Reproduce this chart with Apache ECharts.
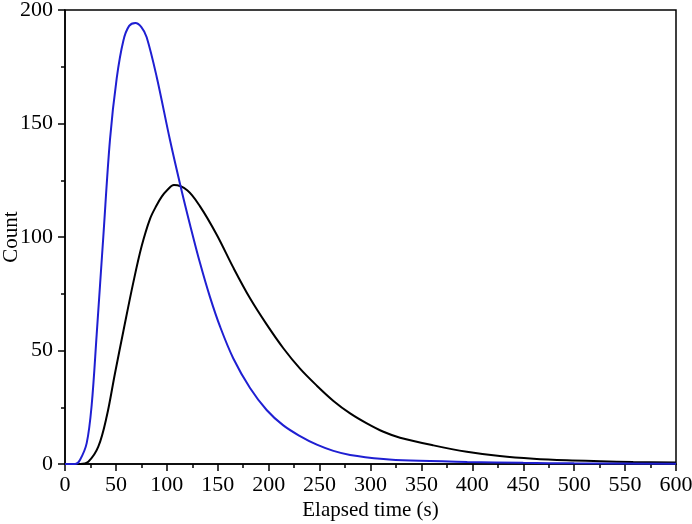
<!DOCTYPE html>
<html><head><meta charset="utf-8">
<script src="https://cdn.jsdelivr.net/npm/echarts@6/dist/echarts.min.js"></script>
<style>html,body{margin:0;padding:0;background:#fff}#c{width:692px;height:524px}</style>
</head><body><div id="c"></div>
<script>
const blueT = [0, 10, 14.7, 21.3, 26.2, 31.1, 37.6, 44.2, 50.8, 57.3, 63, 69.1, 75, 80.2, 90, 103.1, 114, 123, 132.6, 142.4, 152.3, 165.3, 181.7, 198, 214.4, 230.8, 247.3, 263.6, 280, 312.7, 339, 395, 450, 500, 600];
const blueV = [0, 0, 1.8, 9.2, 26, 57, 100, 143, 170, 186.5, 193, 194.3, 192.5, 188, 170.6, 142.7, 121.4, 105, 88.5, 73.5, 60.5, 46.5, 33.5, 23.8, 17, 12.3, 8.5, 5.8, 4, 2.2, 1.5, 0.9, 0.5, 0.3, 0.1];
const blackT = [0, 15, 22.9, 32.7, 41, 49.1, 57.3, 67.1, 75.3, 83.5, 90, 95, 100, 107, 120, 132.6, 149, 165.3, 181.7, 198, 214.4, 230.8, 247.3, 263.6, 280, 296.4, 312.7, 329, 361.8, 394.6, 427, 460, 492.8, 525.6, 558, 600];
const blackV = [0, 0, 1, 7.6, 21, 40, 58.5, 80, 96, 108, 114, 117.8, 120.5, 122.9, 120.6, 113.5, 101, 86.5, 73, 61.5, 51, 42, 34.5, 27.8, 22.3, 17.9, 14.2, 11.6, 8.2, 5.4, 3.5, 2.3, 1.6, 1.2, 0.9, 0.7];
const xTitle = 'Elapsed time (s)';
const yTitle = 'Count';

const zip = (a, b) => a.map((t, i) => [t, b[i]]);
const font = 'Liberation Serif';
const chart = echarts.init(document.getElementById('c'));
chart.setOption({
  animation: false,
  grid: {left: 65, right: 16, top: 10, bottom: 60, outerBoundsMode: 'none', containLabel: false, show: true, borderColor: '#000', borderWidth: 1.5, backgroundColor: 'transparent'},
  xAxis: {
    type: 'value', min: 0, max: 600, interval: 50,
    name: xTitle, nameLocation: 'middle', nameGap: 36, nameMoveOverlap: false,
    nameTextStyle: {fontFamily: font, fontSize: 21, color: '#000'},
    axisLine: {show: true, lineStyle: {color: '#000', width: 1.5}},
    axisTick: {show: true, inside: false, length: 7, lineStyle: {color: '#000', width: 1.5}},
    minorTick: {show: true, splitNumber: 2, length: 4, lineStyle: {color: '#000', width: 1.5}},
    axisLabel: {fontFamily: font, fontSize: 22, color: '#000', margin: 10},
    splitLine: {show: false}
  },
  yAxis: {
    type: 'value', min: 0, max: 200, interval: 50,
    name: yTitle, nameLocation: 'middle', nameGap: 43, nameMoveOverlap: false,
    nameTextStyle: {fontFamily: font, fontSize: 21, color: '#000'},
    axisLine: {show: true, lineStyle: {color: '#000', width: 1.5}},
    axisTick: {show: true, inside: false, length: 7, lineStyle: {color: '#000', width: 1.5}},
    minorTick: {show: true, splitNumber: 2, length: 4, lineStyle: {color: '#000', width: 1.5}},
    axisLabel: {fontFamily: font, fontSize: 22, color: '#000', margin: 12},
    splitLine: {show: false}
  },
  series: [
    {type: 'line', data: zip(blackT, blackV), smooth: 0.35, showSymbol: false, lineStyle: {color: '#000', width: 2}},
    {type: 'line', data: zip(blueT, blueV), smooth: 0.35, showSymbol: false, lineStyle: {color: '#1f1fd2', width: 2}}
  ]
});
</script></body></html>
